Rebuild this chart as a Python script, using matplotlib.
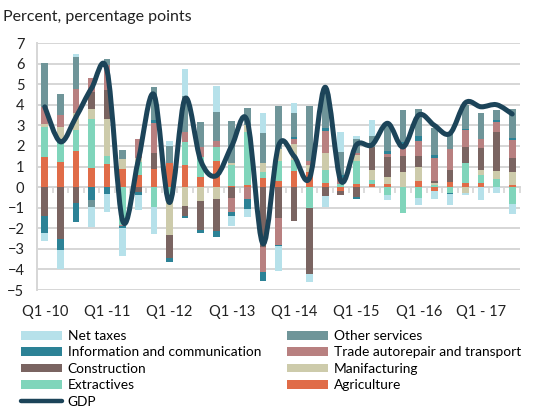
import numpy as np
import matplotlib
matplotlib.use("Agg")
import matplotlib.pyplot as plt
from matplotlib.path import Path
from matplotlib.patches import PathPatch, Patch
from matplotlib.lines import Line2D

plt.rcParams['font.family'] = ['Lato', 'DejaVu Sans']

# --- data (percentage point contributions, Q1-10 .. Q3-17) ---
quarters = [f"Q{q}-{y}" for y in range(10, 18) for q in range(1, 5)][:31]
xlabels = ["Q1 -10", "Q1 -11", "Q1 -12", "Q1 -13", "Q1 -14", "Q1 -15", "Q1 -16", "Q1 - 17"]

agriculture = [1.45, 1.2, 1.73, 0.95, 1.13, 0.9, 0.57, 0.87, 1.17, 1.08, 0.47, 1.25, 0.05, 0.08, 0.44, 0.28,
               0.76, 0.75, 0.2, -0.2, 0.15, 0.17, 0.15, 0.0, 0.28, -0.2, 0.25, 0.2, 0.2, 0.0, 0.08]
extractives = [1.47, 1.1, 1.05, 2.35, 0.36, -1.85, 0.63, -0.95, -0.5, 1.1, 1.0, 0.72, 1.0, 2.6, 0.27, 0.97,
               0.57, -1.0, 0.62, 0.15, 1.1, 0.17, -0.38, -1.28, -0.55, 0.08, -0.3, 0.97, 0.4, 0.38, -0.8]
manufacturing = [0.15, 0.6, 0.8, 0.5, 1.81, 0.45, 0.2, 0.0, -1.85, -0.9, -0.7, -0.6, 0.1, 0.32, 0.46, 0.6,
                 0.77, 0.3, 0.82, 0.0, 0.3, 0.5, 0.35, 0.71, 0.72, 0.1, 0.0, -0.28, 0.24, 0.38, 0.65]
construction = [-1.4, -2.5, -0.78, 0.8, 1.42, 0.0, -0.25, 0.8, -1.1, -0.52, -1.37, -1.55, -0.53, 0.0, -2.93, -1.5,
                -1.67, -3.2, -0.42, -0.2, -0.46, 1.1, 0.95, 0.8, 0.5, 0.12, 0.57, 0.8, 1.05, 1.9, 0.67]
trade = [0.83, 0.6, 1.17, 0.72, 1.22, -0.05, 0.93, 1.45, 0.0, 0.52, 0.5, 0.25, -0.66, -0.6, -1.2, -1.3,
         0.25, 0.2, 1.07, 0.3, 0.13, 0.0, 0.15, 0.55, 0.72, 1.1, 1.05, 0.78, 0.44, 0.5, 0.88]
info_comm = [-0.85, -0.55, -0.9, -0.65, -0.35, -0.07, -0.12, 0.13, -0.2, -0.08, -0.16, -0.28, -0.21, -0.45, -0.45, -0.08,
             0.1, 0.0, 0.15, 0.15, -0.13, 0.0, 0.15, 0.15, 0.25, 0.15, -0.05, 0.08, 0.0, 0.08, 0.1]
other_services = [2.12, 1.0, 1.55, -0.3, 0.27, 0.46, 0.0, 1.6, 0.85, 1.73, 1.17, 1.45, 2.04, 0.83, 1.45, 2.07,
                  1.13, 2.7, 1.7, 1.1, 0.65, 0.55, 1.3, 1.55, 1.3, 1.3, 0.75, 1.17, 1.27, 0.52, 1.4]
net_taxes = [-0.35, -0.95, 0.17, -0.98, -0.85, -1.38, -0.76, -1.33, 0.2, 1.31, 0.0, 1.25, -0.48, -0.4, 0.97, -1.22,
             0.52, -0.4, -0.53, 1.0, 0.17, 0.75, -0.27, 0.0, -0.3, -0.37, -0.51, -0.12, -0.62, -0.3, -0.5]
gdp = [3.9, 2.2, 3.4, 4.8, 5.65, -1.65, 1.3, 4.5, -0.75, 4.3, 1.3, 0.55, 2.0, 3.2, -2.75, 2.0,
       1.5, 0.45, 4.85, 0.3, 2.05, 2.05, 3.1, 1.95, 3.5, 3.0, 2.6, 4.1, 3.9, 4.0, 3.55]

# stacking order from zero outwards
series = [
    ("Agriculture", agriculture, "#e06c48"),
    ("Extractives", extractives, "#80d5bb"),
    ("Manifacturing", manufacturing, "#cdcbab"),
    ("Construction", construction, "#7a6461"),
    ("Trade autorepair and transport", trade, "#b88080"),
    ("Information and communication", info_comm, "#2c8296"),
    ("Other services", other_services, "#6f9599"),
    ("Net taxes", net_taxes, "#b6e1ea"),
]
gdp_color = "#1c4459"
grid_color = "#d6d6d6"

fig = plt.figure(figsize=(5.36, 4.08), dpi=100)
ax = fig.add_axes([37 / 536, 1 - 290 / 408, (520 - 37) / 536, (290 - 43) / 408])

x = np.arange(len(quarters))
pos_bottom = np.zeros(len(x))
neg_bottom = np.zeros(len(x))
for name, vals, col in series:
    v = np.array(vals)
    pos = np.where(v > 0, v, 0)
    neg = np.where(v < 0, v, 0)
    ax.bar(x, pos, 0.43, bottom=pos_bottom, color=col, zorder=2)
    ax.bar(x, neg, 0.43, bottom=neg_bottom, color=col, zorder=2)
    pos_bottom += pos
    neg_bottom += neg

# smoothed GDP line (Excel style cubic bezier through points)
pts = np.column_stack([x, gdp]).astype(float)
ext = np.vstack([pts[0], pts, pts[-1]])
verts = [tuple(pts[0])]
codes = [Path.MOVETO]
for i in range(len(pts) - 1):
    p0, p1, p2, p3 = ext[i], ext[i + 1], ext[i + 2], ext[i + 3]
    c1 = p1 + (p2 - p0) / 6
    c2 = p2 - (p3 - p1) / 6
    verts += [tuple(c1), tuple(c2), tuple(p2)]
    codes += [Path.CURVE4] * 3
ax.add_patch(PathPatch(Path(verts, codes), fill=False, edgecolor=gdp_color, lw=3.6,
                       capstyle='round', joinstyle='round', zorder=3))

ax.set_xlim(-0.5, len(x) - 0.5)
ax.set_ylim(-5, 7)
ax.set_yticks(range(-5, 8))
ax.yaxis.grid(True, color=grid_color, lw=1.4, zorder=0)
ax.set_axisbelow(True)
for s in ["top", "right", "bottom"]:
    ax.spines[s].set_visible(False)
ax.spines["left"].set_color(grid_color)
ax.spines["left"].set_linewidth(1.4)
ax.tick_params(axis="y", length=0, pad=9, labelsize=10.5, colors="#222222")
ax.set_xticks(x[::4])
ax.set_xticklabels(xlabels)
ax.tick_params(axis="x", length=0, pad=11, labelsize=10.5, colors="#222222")

# category tick marks on the zero line
sec = ax.secondary_xaxis(5 / 12)
sec.spines["bottom"].set_color(grid_color)
sec.spines["bottom"].set_linewidth(1.4)
sec.set_xticks(np.arange(-0.5, len(x), 1.0))
sec.tick_params(length=4, width=1.2, color=grid_color, labelbottom=False, direction="out")

fig.text(3 / 536, 1 - 17 / 408, "Percent, percentage points", fontsize=11.5, va="center", color="#222222")

handles = {name: Patch(facecolor=col) for name, _, col in series}
handles["GDP"] = Line2D([], [], color=gdp_color, lw=3.2, solid_capstyle="round")
col1 = ["Net taxes", "Information and communication", "Construction", "Extractives", "GDP"]
col2 = ["Other services", "Trade autorepair and transport", "Manifacturing", "Agriculture"]
kw = dict(frameon=False, fontsize=9.9, handlelength=3.0, handleheight=0.6, handletextpad=0.4,
          labelspacing=0.32, borderpad=0, borderaxespad=0)
fig.legend([handles[n] for n in col1], col1, loc="upper left",
           bbox_to_anchor=(21 / 536, 1 - 330 / 408), **kw)
fig.legend([handles[n] for n in col2], col2, loc="upper left",
           bbox_to_anchor=(287 / 536, 1 - 330 / 408), **kw)

fig.savefig("out.png", dpi=100)
